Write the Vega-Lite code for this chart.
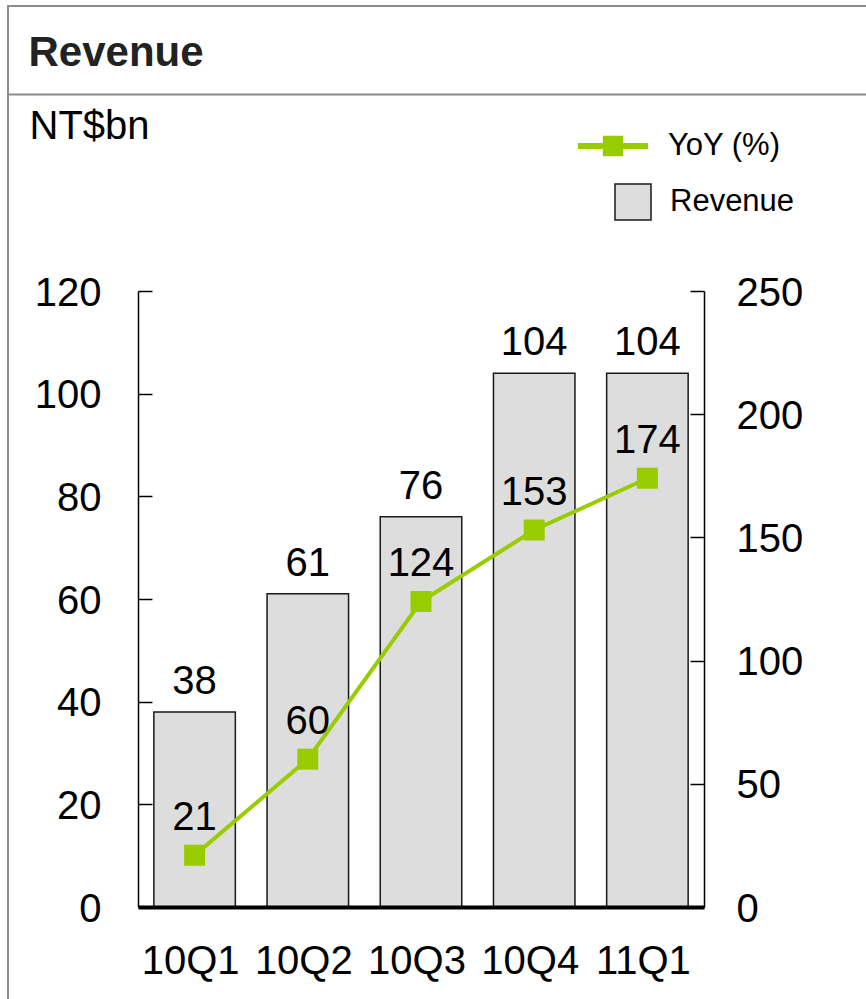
{
  "$schema": "https://vega.github.io/schema/vega-lite/v6.json",
  "padding": {"left": 8, "top": 6, "right": 0, "bottom": 0},
  "width": 860,
  "height": 1000,
  "config": {
    "font": "Liberation Sans",
    "view": {"stroke": "#8c8c8c", "strokeWidth": 2},
    "axis": {"grid": false, "labelFont": "Liberation Sans", "titleFont": "Liberation Sans"},
    "legend": {"labelFont": "Liberation Sans"},
    "text": {"font": "Liberation Sans"}
  },
  "data": {
    "values": [
      {"quarter": "10Q1", "revenue": 38, "yoy": 21},
      {"quarter": "10Q2", "revenue": 61, "yoy": 60},
      {"quarter": "10Q3", "revenue": 76, "yoy": 124},
      {"quarter": "10Q4", "revenue": 104, "yoy": 153},
      {"quarter": "11Q1", "revenue": 104, "yoy": 174}
    ]
  },
  "layer": [
    {
      "description": "Header band: divider line under the panel heading",
      "data": {"values": [{"edge": 0}]},
      "mark": {"type": "rule", "opacity": 0},
      "encoding": {
        "x": {
          "field": "edge",
          "type": "quantitative",
          "scale": {"domain": [0, 1]},
          "axis": {
            "orient": "top",
            "offset": -88,
            "labels": false,
            "ticks": false,
            "domain": true,
            "domainColor": "#8c8c8c",
            "domainWidth": 2,
            "title": "Revenue",
            "titleAngle": 0,
            "titleAlign": "left",
            "titleBaseline": "alphabetic",
            "titleX": 20,
            "titleY": -29,
            "titleFontSize": 42,
            "titleFontWeight": "bold",
            "titleColor": "#222222"
          }
        }
      }
    },
    {
      "layer": [
        {
          "layer": [
            {
              "mark": {"type": "bar", "stroke": "#1a1a1a", "strokeWidth": 1.5},
              "encoding": {
                "x": {
                  "field": "quarter",
                  "type": "nominal",
                  "sort": null,
                  "scale": {"range": [130, 696], "paddingInner": 0.28, "paddingOuter": 0.14},
                  "axis": {
                    "orient": "bottom",
                    "offset": -99,
                    "title": null,
                    "labelAngle": 0,
                    "labelFontSize": 40,
                    "labelColor": "#000000",
                    "labelPadding": 34,
                    "labelOffset": -4,
                    "ticks": false,
                    "domainColor": "#000000",
                    "domainWidth": 4,
                    "zindex": 1
                  }
                },
                "y": {
                  "field": "revenue",
                  "type": "quantitative",
                  "scale": {"domain": [0, 120], "range": [901, 285], "nice": false, "zero": true},
                  "axis": {
                    "orient": "left",
                    "offset": -130,
                    "values": [0, 20, 40, 60, 80, 100, 120],
                    "domainColor": "#000000",
                    "domainWidth": 1.5,
                    "tickColor": "#000000",
                    "tickWidth": 1.5,
                    "tickSize": -14,
                    "labelFontSize": 40,
                    "labelColor": "#000000",
                    "labelPadding": 51,
                    "labelOffset": 2,
                    "title": "NT$bn",
                    "titleAngle": 0,
                    "titleAlign": "left",
                    "titleBaseline": "alphabetic",
                    "titleX": -109,
                    "titleY": 132,
                    "titleFontSize": 40,
                    "titleFontWeight": "normal",
                    "titleColor": "#000000",
                    "zindex": 1
                  }
                },
                "fill": {
                  "datum": "Revenue",
                  "scale": {"domain": ["Revenue"], "range": ["#dddddd"]},
                  "legend": {
                    "title": null,
                    "orient": "none",
                    "legendX": 606,
                    "legendY": 177,
                    "padding": 0,
                    "symbolType": "square",
                    "symbolSize": 1296,
                    "labelFontSize": 31,
                    "labelColor": "#000000",
                    "labelOffset": 18,
                    "labelLimit": 400,
                    "encode": {
                      "symbols": {
                        "update": {
                          "fill": {"value": "#dddddd"},
                          "stroke": {"value": "#1a1a1a"},
                          "strokeWidth": {"value": 2},
                          "opacity": {"value": 1}
                        }
                      }
                    }
                  }
                }
              }
            },
            {
              "mark": {"type": "text", "fontSize": 40, "baseline": "alphabetic", "dy": -18, "color": "#000000"},
              "encoding": {
                "x": {"field": "quarter", "type": "nominal", "sort": null},
                "y": {"field": "revenue", "type": "quantitative"},
                "text": {"field": "revenue", "type": "quantitative"}
              }
            }
          ]
        },
        {
          "layer": [
            {
              "mark": {"type": "line", "strokeWidth": 4},
              "encoding": {
                "x": {"field": "quarter", "type": "nominal", "sort": null},
                "y": {
                  "field": "yoy",
                  "type": "quantitative",
                  "scale": {"domain": [0, 250], "range": [901, 285], "nice": false, "zero": true},
                  "axis": {
                    "orient": "right",
                    "offset": -164,
                    "values": [0, 50, 100, 150, 200, 250],
                    "domainColor": "#000000",
                    "domainWidth": 1.5,
                    "tickColor": "#000000",
                    "tickWidth": 1.5,
                    "tickSize": -14,
                    "labelFontSize": 40,
                    "labelColor": "#000000",
                    "labelPadding": 46,
                    "labelOffset": 2,
                    "title": null,
                    "zindex": 1
                  }
                },
                "stroke": {
                  "datum": "YoY (%)",
                  "scale": {"domain": ["YoY (%)"], "range": ["#99cc00"]},
                  "legend": {
                    "title": null,
                    "orient": "none",
                    "legendX": 570,
                    "legendY": 105,
                    "padding": 0,
                    "symbolType": "M-1,-0.085H1V0.085H-1Z M-0.29,-0.29H0.29V0.29H-0.29Z",
                    "symbolSize": 4900,
                    "labelFontSize": 31,
                    "labelColor": "#000000",
                    "labelOffset": 20,
                    "labelLimit": 400,
                    "encode": {
                      "symbols": {
                        "update": {
                          "fill": {"value": "#99cc00"},
                          "stroke": {"value": "transparent"},
                          "strokeWidth": {"value": 0},
                          "opacity": {"value": 1}
                        }
                      }
                    }
                  }
                }
              }
            },
            {
              "mark": {"type": "square", "size": 441, "color": "#99cc00", "filled": true, "opacity": 1},
              "encoding": {
                "x": {"field": "quarter", "type": "nominal", "sort": null},
                "y": {"field": "yoy", "type": "quantitative"}
              }
            },
            {
              "mark": {"type": "text", "fontSize": 40, "baseline": "alphabetic", "dy": -25, "color": "#000000"},
              "encoding": {
                "x": {"field": "quarter", "type": "nominal", "sort": null},
                "y": {"field": "yoy", "type": "quantitative"},
                "text": {"field": "yoy", "type": "quantitative"}
              }
            }
          ]
        }
      ],
      "resolve": {"scale": {"y": "independent"}}
    }
  ],
  "resolve": {"scale": {"x": "independent"}}
}
